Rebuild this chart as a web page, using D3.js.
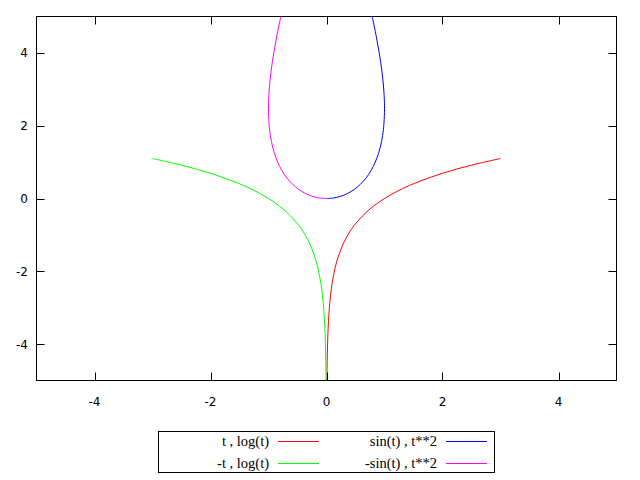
<!DOCTYPE html>
<html><head><meta charset="utf-8">
<script src="https://cdn.jsdelivr.net/npm/d3@7"></script>
<style>body{margin:0;background:#fff}svg{display:block}</style>
</head><body>
<svg id="c" width="640" height="480"></svg>
<script>
const xTicks = [-4, -2, 0, 2, 4];
const yTicks = [-4, -2, 0, 2, 4];
// t , log(t)  (read/estimated points)
const logX = [0.0067, 0.01, 0.02, 0.03, 0.05, 0.07, 0.1, 0.15, 0.2, 0.3, 0.4, 0.5, 0.75, 1, 1.25, 1.5, 2, 2.5, 3];
const logY = [-5, -4.605, -3.912, -3.507, -2.996, -2.659, -2.303, -1.897, -1.609, -1.204, -0.916, -0.693, -0.288, 0, 0.223, 0.405, 0.693, 0.916, 1.099];
// sin(t) , t**2
const sinX = [0, 0.125, 0.247, 0.366, 0.479, 0.585, 0.682, 0.768, 0.841, 0.902, 0.949, 0.981, 0.997, 1.0, 0.999, 0.984, 0.954, 0.909, 0.851, 0.787];
const sinY = [0, 0.0156, 0.0625, 0.1406, 0.25, 0.3906, 0.5625, 0.7656, 1.0, 1.2656, 1.5625, 1.8906, 2.25, 2.467, 2.6406, 3.0625, 3.5156, 4.0, 4.5156, 5.0];
const labels = ["t , log(t)", "-t , log(t)", "sin(t) , t**2", "-sin(t) , t**2"];
const colors = ["#ff0000", "#00ff00", "#0000ff", "#ff00ff"];

const series = [
  logX.map((v, i) => [v, logY[i]]),
  logX.map((v, i) => [-v, logY[i]]),
  sinX.map((v, i) => [v, sinY[i]]),
  sinX.map((v, i) => [-v, sinY[i]])
];

const svg = d3.select("#c");
const L = 36.5, R = 616.5, T = 16.5, B = 380.5;
const x = d3.scaleLinear().domain([-5, 5]).range([L, R]);
const y = d3.scaleLinear().domain([-5, 5]).range([B, T]);

const defs = svg.append("defs");
defs.append("clipPath").attr("id", "clip").append("rect")
  .attr("x", L).attr("y", T).attr("width", R - L).attr("height", B - T);

const line = d3.line().x(d => x(d[0])).y(d => y(d[1])).curve(d3.curveCatmullRom.alpha(0.5));
const g = svg.append("g").attr("clip-path", "url(#clip)");
series.forEach((s, i) => {
  g.append("path").attr("d", line(s)).attr("fill", "none")
    .attr("stroke", colors[i]).attr("stroke-width", 1);
});

// frame and ticks
const tk = 8;
const ax = svg.append("g").attr("stroke", "#000").attr("stroke-width", 1);
ax.append("rect").attr("x", L).attr("y", T).attr("width", R - L).attr("height", B - T).attr("fill", "none");
xTicks.forEach(v => {
  const px = Math.round(x(v)) + 0.5;
  ax.append("line").attr("x1", px).attr("x2", px).attr("y1", B).attr("y2", B - tk);
  ax.append("line").attr("x1", px).attr("x2", px).attr("y1", T).attr("y2", T + tk);
});
yTicks.forEach(v => {
  const py = Math.round(y(v)) + 0.5;
  ax.append("line").attr("x1", L).attr("x2", L + tk).attr("y1", py).attr("y2", py);
  ax.append("line").attr("x1", R).attr("x2", R - tk).attr("y1", py).attr("y2", py);
});
const tf = "'DejaVu Sans', sans-serif";
svg.append("g").selectAll("text").data(xTicks).join("text")
  .attr("x", d => x(d)).attr("y", 406).attr("text-anchor", "middle")
  .attr("font-family", tf).attr("font-size", 12).text(d => d);
svg.append("g").selectAll("text").data(yTicks).join("text")
  .attr("x", 28).attr("y", d => y(d) + 4.5).attr("text-anchor", "end")
  .attr("font-family", tf).attr("font-size", 12).text(d => d);

// legend
svg.append("rect").attr("x", 158.5).attr("y", 431.5).attr("width", 336).attr("height", 41)
  .attr("fill", "none").attr("stroke", "#000");
const pos = [[269, 278, 441], [269, 278, 463], [437, 446, 441], [437, 446, 463]];
labels.forEach((lab, i) => {
  const [tx, lx, ly] = pos[i];
  svg.append("text").attr("x", tx).attr("y", ly + 5).attr("text-anchor", "end")
    .attr("font-family", "'Liberation Serif', serif").attr("font-size", 14.5).text(lab);
  svg.append("rect").attr("x", lx).attr("y", ly).attr("width", 41).attr("height", 1)
    .attr("fill", colors[i]).attr("shape-rendering", "crispEdges");
});
</script>
</body></html>
